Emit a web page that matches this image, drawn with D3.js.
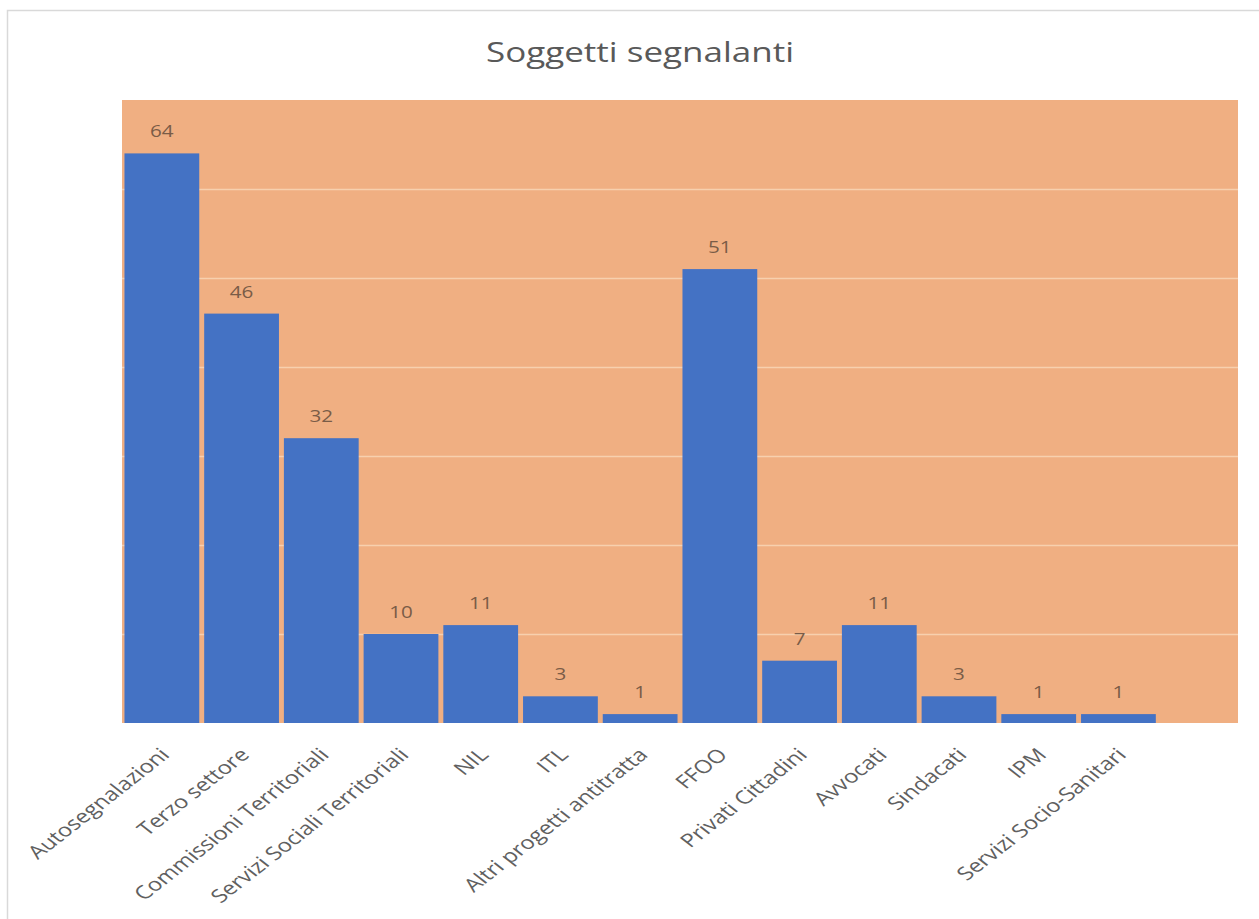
<!DOCTYPE html>
<html>
<head>
<meta charset="utf-8">
<script src="https://cdn.jsdelivr.net/npm/d3@7"></script>
<style>
  html, body { margin: 0; padding: 0; background: #ffffff; }
  svg { display: block; }
</style>
</head>
<body>
<svg id="chart" width="1259" height="919"></svg>
<script>
// Categories (the last slot is an empty row of the source table)
const categories = [
  "Autosegnalazioni", "Terzo settore", "Commissioni Territoriali",
  "Servizi Sociali Territoriali", "NIL", "ITL", "Altri progetti antitratta",
  "FFOO", "Privati Cittadini", "Avvocati", "Sindacati", "IPM",
  "Servizi Socio-Sanitari", ""
];
const values = [64, 46, 32, 10, 11, 3, 1, 51, 7, 11, 3, 1, 1, null];
const gridTicks = [10, 20, 30, 40, 50, 60];
const chartTitle = "Soggetti segnalanti";

const svg = d3.select("#chart");
const FONT = "'Open Sans', 'Noto Sans', sans-serif";
const TEXT_SX = 1.25;  // horizontal stretch of upright text
const LABEL_SX = 1.28; // horizontal stretch of the slanted category labels

const plot = { left: 122, right: 1238, top: 100, bottom: 723 };

// outer frame
svg.append("rect")
  .attr("x", 7.5).attr("y", 10.5)
  .attr("width", 1270).attr("height", 930)
  .attr("fill", "#ffffff")
  .attr("stroke", "#d9d9d9").attr("stroke-width", 1.5);

const x = d3.scaleBand()
  .domain(categories)
  .range([plot.left, plot.right])
  .paddingInner(0.062)
  .paddingOuter(0.031);

const y = d3.scaleLinear()
  .domain([0, 70])
  .range([plot.bottom, plot.top]);

// plot background
svg.append("rect")
  .attr("x", plot.left).attr("y", plot.top)
  .attr("width", plot.right - plot.left)
  .attr("height", plot.bottom - plot.top)
  .attr("fill", "#F0AF82");

// gridlines
svg.append("g")
  .attr("transform", `translate(${plot.left},0)`)
  .call(d3.axisLeft(y).tickValues(gridTicks).tickSize(-(plot.right - plot.left)).tickFormat(""))
  .call(g => g.select(".domain").remove())
  .call(g => g.selectAll(".tick line")
    .attr("stroke", "#F7D0AE").attr("stroke-width", 1.6));

const data = categories.map((c, i) => ({ c, v: values[i] })).filter(d => d.v != null);

// bars
svg.append("g").selectAll("rect")
  .data(data)
  .join("rect")
  .attr("x", d => x(d.c))
  .attr("y", d => y(d.v))
  .attr("width", x.bandwidth())
  .attr("height", d => y(0) - y(d.v))
  .attr("fill", "#4472C4");

// value labels
svg.append("g").selectAll("text")
  .data(data)
  .join("text")
  .attr("transform", d => `translate(${x(d.c) + x.bandwidth() / 2},${y(d.v) - 16}) scale(${TEXT_SX},1)`)
  .attr("text-anchor", "middle")
  .attr("font-family", FONT)
  .attr("font-size", 16.5)
  .attr("fill", "#7a5c47")
  .text(d => d.v);

// category axis labels
const xAxis = svg.append("g")
  .attr("transform", `translate(0,${plot.bottom})`)
  .call(d3.axisBottom(x).tickSize(0).tickFormat(d => d));
xAxis.select(".domain").remove();
xAxis.selectAll(".tick text")
  .attr("font-family", FONT)
  .attr("font-size", 18.5)
  .attr("fill", "#606060")
  .attr("text-anchor", "end")
  .attr("x", null).attr("y", null).attr("dy", null)
  .attr("transform", `translate(9,33) scale(${LABEL_SX},1) rotate(-45)`);

// title
svg.append("text")
  .attr("transform", `translate(640,62) scale(${TEXT_SX},1)`)
  .attr("text-anchor", "middle")
  .attr("font-family", FONT)
  .attr("font-size", 28)
  .attr("fill", "#595959")
  .text(chartTitle);
</script>
</body>
</html>
